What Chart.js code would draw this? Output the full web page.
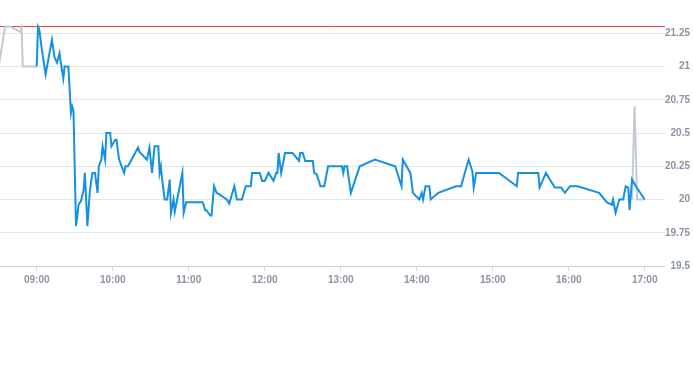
<!DOCTYPE html>
<html>
<head>
<meta charset="utf-8">
<script src="https://cdn.jsdelivr.net/npm/chart.js@4/dist/chart.umd.min.js"></script>
<style>
  html, body { margin: 0; padding: 0; background: #fff; }
  #wrap { position: relative; width: 693px; height: 289px; }
</style>
</head>
<body>
<div id="wrap"><canvas id="priceChart"></canvas></div>
<script>
// Cotações do dia (horário, preço)
var preTimes  = ['08:30', '08:35', '08:39', '08:47', '08:48', '08:49', '09:00'];
var preValues = [21.00, 21.30, 21.30, 21.26, 21.29, 21.00, 21.00];

var dayTimes = [
  '09:00', '09:01', '09:02', '09:04', '09:07', '09:12', '09:14', '09:16', '09:18', '09:19',
  '09:21', '09:22', '09:25', '09:27', '09:28', '09:29', '09:31', '09:32', '09:33', '09:35',
  '09:37', '09:38', '09:40', '09:42', '09:44', '09:46', '09:48', '09:49', '09:51', '09:52',
  '09:54', '09:55', '09:58', '09:59', '10:02', '10:03', '10:05', '10:09', '10:10', '10:12',
  '10:20', '10:21', '10:27', '10:29', '10:31', '10:33', '10:36', '10:37', '10:38', '10:39',
  '10:41', '10:43', '10:45', '10:46', '10:48', '10:49', '10:55', '10:56', '10:58', '11:11',
  '11:13', '11:14', '11:17', '11:18', '11:20', '11:22', '11:24', '11:30', '11:32', '11:36',
  '11:38', '11:42', '11:45', '11:49', '11:50', '11:56', '11:58', '12:00', '12:03', '12:07',
  '12:09', '12:10', '12:11', '12:13', '12:16', '12:22', '12:27', '12:28', '12:30', '12:32',
  '12:38', '12:39', '12:41', '12:44', '12:47', '12:50', '13:01', '13:02', '13:03', '13:05',
  '13:08', '13:15', '13:27', '13:43', '13:48', '13:49', '13:55', '13:57', '14:02', '14:04',
  '14:05', '14:07', '14:10', '14:11', '14:17', '14:31', '14:35', '14:41', '14:44', '14:45',
  '14:47', '15:05', '15:19', '15:20', '15:36', '15:37', '15:42', '15:49', '15:54', '15:57',
  '16:01', '16:07', '16:24', '16:30', '16:34', '16:35', '16:37', '16:40', '16:43', '16:45',
  '16:47', '16:48', '16:50', '16:53', '17:00'
];
var dayValues = [
  21.00, 21.30, 21.28, 21.13, 20.94, 21.20, 21.07, 21.03, 21.10, 21.03,
  20.91, 21.00, 21.00, 20.65, 20.70, 20.67, 19.80, 19.87, 19.96, 19.99,
  20.07, 20.20, 19.80, 20.07, 20.20, 20.20, 20.05, 20.25, 20.30, 20.40,
  20.30, 20.50, 20.50, 20.40, 20.45, 20.45, 20.30, 20.20, 20.25, 20.25,
  20.39, 20.36, 20.30, 20.39, 20.20, 20.40, 20.40, 20.20, 20.25, 20.15,
  20.00, 20.00, 20.15, 19.90, 20.00, 19.91, 20.20, 19.90, 19.98, 19.98,
  19.92, 19.92, 19.88, 19.88, 20.10, 20.05, 20.04, 20.00, 19.97, 20.10,
  20.00, 20.00, 20.10, 20.10, 20.20, 20.20, 20.14, 20.14, 20.20, 20.14,
  20.20, 20.20, 20.35, 20.20, 20.35, 20.35, 20.29, 20.35, 20.35, 20.29,
  20.29, 20.20, 20.19, 20.10, 20.10, 20.25, 20.25, 20.20, 20.25, 20.25,
  20.05, 20.25, 20.30, 20.25, 20.10, 20.30, 20.20, 20.05, 20.00, 20.05,
  20.00, 20.10, 20.10, 20.00, 20.05, 20.10, 20.10, 20.30, 20.21, 20.09,
  20.20, 20.20, 20.10, 20.20, 20.20, 20.09, 20.20, 20.09, 20.09, 20.05,
  20.10, 20.10, 20.05, 19.98, 19.96, 20.00, 19.90, 20.00, 20.00, 20.10,
  20.09, 19.92, 20.15, 20.10, 20.00
];

var postTimes  = ['16:50', '16:52', '16:54', '17:00'];
var postValues = [20.00, 20.70, 20.00, 20.00];

var prevClose = 21.30;

var hourTicks = ['09:00', '10:00', '11:00', '12:00', '13:00', '14:00', '15:00', '16:00', '17:00'];
var priceTicks = [19.5, 19.75, 20, 20.25, 20.5, 20.75, 21, 21.25];

// Converte "HH:MM" em minutos
function toMinutes(hhmm) {
  var p = hhmm.split(':');
  return parseInt(p[0], 10) * 60 + parseInt(p[1], 10);
}

function toLabel(min) {
  var h = Math.floor(min / 60), m = Math.round(min % 60);
  return (h < 10 ? '0' : '') + h + ':' + (m < 10 ? '0' : '') + m;
}

function toPoints(times, values) {
  return times.map(function(t, i) {
    return { x: toMinutes(t), y: values[i] };
  });
}

var xMin = 511, xMax = 1036;
var tickFont = { family: "'Liberation Sans', Arial, sans-serif", size: 10, weight: 'bold' };

document.addEventListener('DOMContentLoaded', function() {
  var ctx = document.getElementById('priceChart').getContext('2d');
  new Chart(ctx, {
    type: 'line',
    data: {
      datasets: [{
        label: 'Pregão',
        data: toPoints(dayTimes, dayValues),
        borderColor: '#1590e2',
        borderWidth: 2,
        pointRadius: 0,
        tension: 0,
        order: 0
      }, {
        label: 'Pré',
        data: toPoints(preTimes, preValues),
        borderColor: '#c2cbd3',
        borderWidth: 2,
        pointRadius: 0,
        tension: 0,
        order: 1
      }, {
        label: 'Pós',
        data: toPoints(postTimes, postValues),
        borderColor: '#c2cbd3',
        borderWidth: 2,
        pointRadius: 0,
        tension: 0,
        order: 1
      }, {
        label: 'Fechamento anterior',
        data: [{ x: xMin, y: prevClose }, { x: xMax, y: prevClose }],
        borderColor: '#dd3b32',
        borderWidth: 1,
        pointRadius: 0,
        order: 2
      }]
    },
    options: {
      responsive: true,
      maintainAspectRatio: false,
      animation: false,
      layout: { padding: { left: 0, right: 3, top: 0, bottom: 0 } },
      plugins: {
        legend: { display: false },
        tooltip: { enabled: false }
      },
      scales: {
        x: {
          type: 'linear',
          min: xMin,
          max: xMax,
          afterBuildTicks: function(axis) {
            axis.ticks = hourTicks.map(function(h) { return { value: toMinutes(h) }; });
          },
          border: { color: '#ccd3de' },
          grid: {
            drawOnChartArea: false,
            tickLength: 5,
            color: '#ccd3de'
          },
          ticks: {
            color: '#8a93a1',
            font: tickFont,
            padding: 3,
            maxRotation: 0,
            callback: function(v) { return toLabel(v); }
          }
        },
        y: {
          position: 'right',
          min: 19.5,
          max: 21.5,
          afterBuildTicks: function(axis) {
            axis.ticks = priceTicks.map(function(v) { return { value: v }; });
          },
          // sem espaço extra acima do gráfico
          afterFit: function(axis) {
            axis.paddingTop = 0;
            axis.paddingBottom = 0;
          },
          border: { display: false },
          grid: {
            color: '#e4e6ea',
            drawTicks: false
          },
          ticks: {
            color: '#8a93a1',
            font: tickFont,
            padding: 0,
            crossAlign: 'far',
            callback: function(v) { return String(v); }
          }
        }
      }
    }
  });
});
</script>
</body>
</html>
